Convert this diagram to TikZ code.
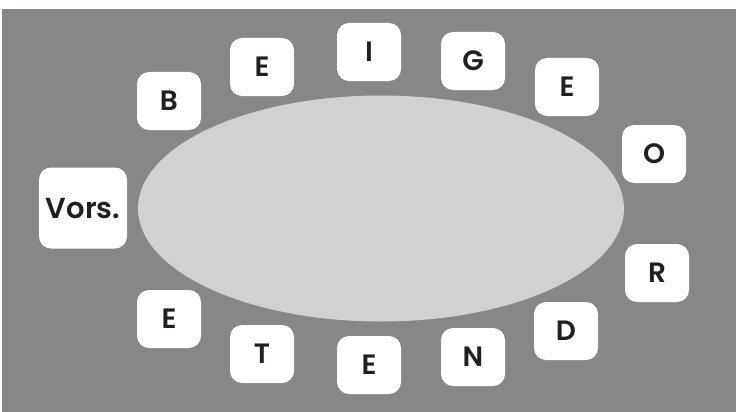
\documentclass[tikz,border=0pt]{standalone}
\usepackage{fontspec}
\setmainfont{Poppins}[BoldFont={Poppins SemiBold}]
\definecolor{bgray}{RGB}{136,135,133}
\definecolor{egray}{RGB}{209,209,209}
\definecolor{ink}{RGB}{35,31,32}
\begin{document}
\begin{tikzpicture}[x=1pt,y=-1pt,
  letterbox/.style={fill=white, rounded corners=12pt, minimum width=64pt, minimum height=58pt,
    inner sep=0pt, text height=19.5pt, text depth=0pt, text=ink,
    font=\fontsize{28}{28}\selectfont\bfseries},
  bigbox/.style={letterbox, minimum width=88pt, minimum height=81pt, text height=20.5pt,
    font=\fontsize{29}{29}\selectfont\bfseries}]
\useasboundingbox (0,0) rectangle (736,412);
\fill[white] (0,0) rectangle (736,412);
\fill[bgray] (2,9) rectangle (736,412);
\fill[egray] (381,208.5) ellipse [x radius=243, y radius=113];
\node[bigbox] (vors) at (83,208) {Vors.};
\node[letterbox] (b) at (169,101) {B};
\node[letterbox] (e1) at (262,67) {E};
\node[letterbox] (i) at (369,52) {I};
\node[letterbox] (g) at (473,61) {G};
\node[letterbox] (e2) at (567,87) {E};
\node[letterbox] (o) at (654,154) {O};
\node[letterbox] (r) at (657,273) {R};
\node[letterbox] (d) at (566,331) {D};
\node[letterbox] (n) at (473,357) {N};
\node[letterbox] (e3) at (369,365) {E};
\node[letterbox] (t) at (262,354) {T};
\node[letterbox] (e4) at (169,319) {E};
\end{tikzpicture}
\end{document}
